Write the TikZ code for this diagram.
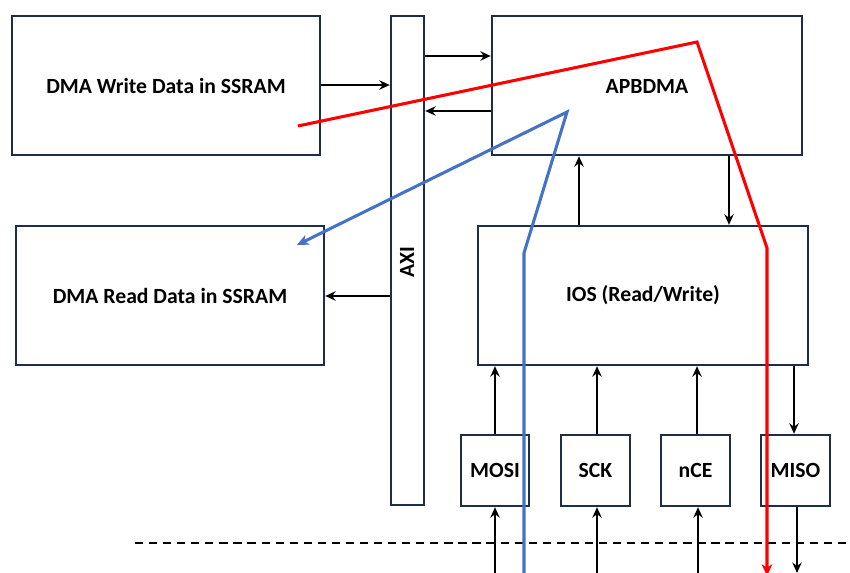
\documentclass[tikz,border=0pt]{standalone}
\usepackage{fontspec}
\setmainfont{Carlito}
\usetikzlibrary{arrows.meta,fit,calc}
\definecolor{boxline}{HTML}{1F2D4A}
\definecolor{bluel}{HTML}{4472C4}
\tikzset{
  box/.style={draw=boxline,line width=2pt,inner sep=0pt,fill=white},
  lbl/.style={font=\bfseries\fontsize{18.5}{20}\selectfont},
  arr/.style={-{Stealth[length=9pt,width=8pt,inset=3pt]},line width=1.3pt,black},
  redl/.style={draw=red,line width=2.6pt,-{Stealth[length=10pt,width=9pt,inset=3pt]}},
  bluelin/.style={draw=bluel,line width=2.6pt,-{Stealth[length=10pt,width=9pt,inset=3pt]}},
}
\begin{document}
\begin{tikzpicture}[x=0.03cm,y=-0.03cm]
\useasboundingbox (0,0) rectangle (850,573);
\node[box,fit={(12,16)(320,155)},label={[lbl]center:DMA Write Data in SSRAM}] (dmaw) {};
\node[box,fit={(16,226)(324,365)},label={[lbl]center:DMA Read Data in SSRAM}] (dmar) {};
\node[box,fit={(391,16)(424,505)}] (axi) {};
\node[lbl,rotate=90] (axit) at (407,262) {AXI};
\node[box,fit={(492,16)(802,155)}] (apb) {};
\node[lbl] (apbt) at (647,86) {APBDMA};
\node[box,fit={(478,226)(808,365)},label={[lbl]center:IOS (Read/Write)}] (ios) {};
\node[box,fit={(461,435)(529,506)},label={[lbl]center:MOSI}] (mosi) {};
\node[box,fit={(561,435)(630,506)},label={[lbl]center:SCK}] (sck) {};
\node[box,fit={(661,435)(730,506)},label={[lbl]center:nCE}] (nce) {};
\node[box,fit={(761,435)(830,506)},label={[lbl]center:MISO}] (miso) {};
% connectors
\draw[arr] (dmaw.east |- 0,85) -- (axi.west |- 0,85);
\draw[arr] (axi.east |- 0,56) -- (apb.west |- 0,56);
\draw[arr] (apb.west |- 0,111) -- (axi.east |- 0,111);
\draw[arr] (axi.west |- 0,296) -- (dmar.east |- 0,296);
\draw[arr] (ios.north -| 579,0) -- (apb.south -| 579,0);
\draw[arr] (apb.south -| 729,0) -- (ios.north -| 729,0);
\draw[arr] (mosi.north -| 495,0) -- (ios.south -| 495,0);
\draw[arr] (sck.north -| 597,0) -- (ios.south -| 597,0);
\draw[arr] (nce.north -| 697,0) -- (ios.south -| 697,0);
\draw[arr] (ios.south -| 794,0) -- (miso.north -| 794,0);
\coordinate (b1) at (495,573);
\coordinate (b2) at (597,573);
\coordinate (b3) at (698,573);
\coordinate (b4) at (797,573);
\draw[arr] (b1) -- (mosi.south -| b1);
\draw[arr] (b2) -- (sck.south -| b2);
\draw[arr] (b3) -- (nce.south -| b3);
\draw[arr] (miso.south -| b4) -- (b4);
% dashed boundary
\coordinate (d1) at (135,543);
\coordinate (d2) at (850,543);
\draw[line width=1.3pt,dash pattern=on 7pt off 5pt] (d1) -- (d2);
% red path
\coordinate (r0) at (298,126);
\coordinate (r1) at (697,42);
\coordinate (r2) at (767,248);
\coordinate (r3) at (767,576);
\draw[redl] (r0) -- (r1) -- (r2) -- (r3);
% blue path
\coordinate (u0) at (524,576);
\coordinate (u1) at (524,253);
\coordinate (u2) at (567,112);
\coordinate (u3) at (297,245);
\draw[bluelin] (u0) -- (u1) -- (u2) -- (u3);
\end{tikzpicture}
\end{document}
